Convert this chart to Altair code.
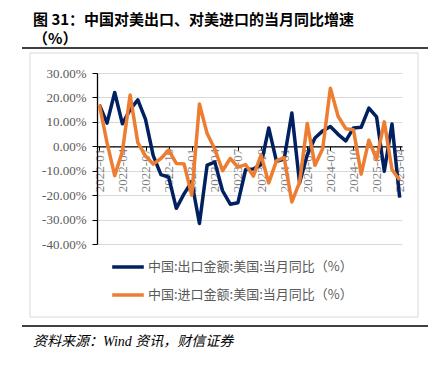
import altair as alt
import pandas as pd

months = [f"{y}-{m:02d}" for y in range(2022, 2026) for m in range(1, 13)][:40]
tick_labels = months[::3]

series_names = ["中国:出口金额:美国:当月同比（%）", "中国:进口金额:美国:当月同比（%）"]

export_yoy = [17.0, 9.5, 22.0, 9.2, 15.0, 19.0, 11.0, -3.8, -11.6, -12.6,
              -25.4, -19.5, -14.5, -31.6, -7.7, -6.5, -18.2, -23.7, -23.1, -9.5,
              -9.3, -7.5, 7.5, -6.2, -5.2, 13.6, -15.0, -3.5, 3.4, 6.3,
              8.1, 4.9, 2.2, 7.5, 7.8, 15.6, 12.0, -10.2, 9.1, -21.0]

import_yoy = [17.0, 1.5, -12.0, -2.0, 21.0, 1.5, -4.0, -7.3, -5.0, -1.6,
              -7.0, -7.2, -20.0, 17.3, 5.2, -1.2, -10.0, -5.0, -8.5, -7.5,
              -12.2, -3.6, -15.0, -6.0, -4.6, -22.8, -14.8, 9.3, -7.8, -1.0,
              23.8, 12.3, 7.2, 6.8, -11.4, 2.5, -5.4, 10.0, -9.5, -13.8]

title_line1 = "图 31：中国对美出口、对美进口的当月同比增速"
title_line2 = "（%）"
source_text = "资料来源：Wind 资讯，财信证券"

rows = []
for name, vals in zip(series_names, [export_yoy, import_yoy]):
    for m, v in zip(months, vals):
        rows.append({"month": m, "value": v, "series": name})
df = pd.DataFrame(rows)

W, H = 305, 171
zero_offset = -(H * 40 / 70)

lines = alt.Chart(df).mark_line(strokeWidth=3.5, strokeJoin="round").encode(
    x=alt.X("month:O", sort=months,
            scale=alt.Scale(type="point", padding=0.3),
            axis=alt.Axis(values=tick_labels, title=None, labelAngle=270,
                          offset=zero_offset, domainColor="black", domainWidth=1.3,
                          ticks=True, tickSize=4, tickColor="black",
                          labelPadding=-2, labelFont="Liberation Serif",
                          labelFontSize=13, labelColor="#7f7f7f", grid=False)),
    y=alt.Y("value:Q", scale=alt.Scale(domain=[-40, 30], nice=False),
            axis=alt.Axis(values=list(range(-40, 31, 10)), title=None,
                          labelExpr="(datum.value < 0 ? '-' : '') + format(abs(datum.value), '.2f') + '%'",
                          domainColor="black", domainWidth=1.3, tickColor="black",
                          tickSize=5, labelPadding=6, labelFont="Liberation Serif",
                          labelFontSize=13, labelColor="#595959",
                          grid=True, gridColor="#d9d9d9", gridWidth=1.2)),
    color=alt.Color("series:N",
                    scale=alt.Scale(domain=series_names, range=["#002060", "#ED7D31"]),
                    legend=alt.Legend(orient="none", legendX=13, legendY=176,
                                      direction="vertical", title=None,
                                      symbolType="stroke", symbolSize=1000,
                                      symbolStrokeWidth=3.5, labelFontSize=13,
                                      labelFont="Noto Sans CJK SC", labelColor="#595959",
                                      rowPadding=3, labelOffset=2, labelLimit=0,
                                      padding=0)),
)

one = pd.DataFrame({"k": [0]})

frame = alt.Chart(one).mark_rect(filled=False, stroke="#d9d9d9", strokeWidth=1).encode(
    x=alt.value(-67), x2=alt.value(321), y=alt.value(-20), y2=alt.value(244))

rule_top = alt.Chart(one).mark_rule(color="black", strokeWidth=1.5).encode(
    x=alt.value(-75), x2=alt.value(331), y=alt.value(-25))
rule_bot = alt.Chart(one).mark_rule(color="black", strokeWidth=1.5).encode(
    x=alt.value(-75), x2=alt.value(331), y=alt.value(253))

t1 = alt.Chart(one).mark_text(align="left", baseline="middle", fontSize=15,
                              fontWeight="bold", font="Noto Sans CJK SC", color="black").encode(
    x=alt.value(-64), y=alt.value(-53), text=alt.value(title_line1))
t2 = alt.Chart(one).mark_text(align="left", baseline="middle", fontSize=15,
                              fontWeight="bold", font="Noto Sans CJK SC", color="black").encode(
    x=alt.value(-64), y=alt.value(-34), text=alt.value(title_line2))
src = alt.Chart(one).mark_text(align="left", baseline="middle", fontSize=14,
                               fontStyle="italic", font="Liberation Serif, Noto Sans CJK SC",
                               color="black").encode(
    x=alt.value(-64), y=alt.value(269), text=alt.value(source_text))

chart = alt.layer(frame, lines, rule_top, rule_bot, t1, t2, src).properties(
    width=W, height=H,
    autosize=alt.AutoSizeParams(type="none"),
    padding={"left": 89, "top": 65, "right": 32, "bottom": 113},
    background="white",
).configure_view(stroke=None)

chart.save("out.html", embed_options={"renderer": "svg", "actions": False})
